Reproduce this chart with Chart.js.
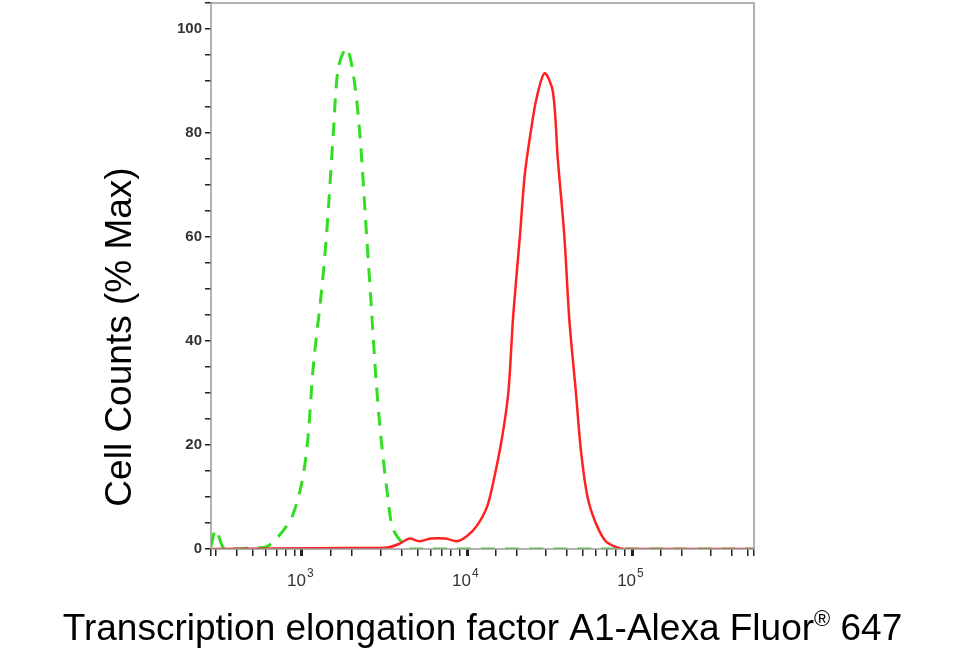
<!DOCTYPE html>
<html><head><meta charset="utf-8">
<script src="https://cdn.jsdelivr.net/npm/chart.js@4"></script>
<style>html,body{margin:0;background:#fff;overflow:hidden}#wrap{width:958px;height:665px;position:relative;top:-9px}</style>
</head><body><div id="wrap"><canvas id="chart"></canvas></div>
<script>
// green (isotype control), dashed
var greenX = [281, 300, 330, 347, 490, 617, 759, 871, 1000, 1084, 1175, 1318, 1413, 1549, 1660, 1862, 2042, 2239, 2455, 2630, 2818, 3020, 3311, 3548, 4074, 4571, 100000, 548000];
var greenY = [0.5, 3.7, 0.5, 0, 0.2, 0.5, 3.3, 6.2, 12.9, 21, 35.7, 50, 61, 80, 92.6, 96.3, 91.5, 80, 61, 46.7, 32, 21, 10, 4, 1.1, 0, 0, 0];
// red (antibody)
var redX = [281, 1900, 3311, 3890, 4467, 5129, 6026, 7413, 8710, 10000, 11482, 13183, 14454, 16218, 17783, 19055, 20893, 22387, 24547, 26303, 29512, 33113, 35481, 38905, 41687, 45709, 48978, 53703, 60256, 69183, 81283, 89125, 548000];
var redY = [0, 0.2, 0.3, 1, 2, 1.5, 2, 2, 1.5, 2.5, 4.5, 8, 13, 21, 30, 45, 60, 72, 81, 86.5, 91.5, 88, 75, 60, 44, 30, 19, 10, 5, 1.5, 0.3, 0, 0];
var yLabels = [0, 20, 40, 60, 80, 100];
var decades = [1000, 10000, 100000];
var decadeExp = ['3', '4', '5'];

function pts(xs, ys) { return xs.map(function (x, i) { return {x: x, y: ys[i]}; }); }

var extras = {
    id: 'extras',
    afterDraw: function (c) {
        var a = c.chartArea, g = c.ctx, xs = c.scales.x;
        g.save();
        g.strokeStyle = '#999'; g.lineWidth = 1.5;
        g.strokeRect(a.left, a.top, a.right - a.left, a.bottom - a.top);
        // decade labels 10^n
        g.fillStyle = '#333'; g.textBaseline = 'alphabetic';
        decades.forEach(function (d, i) {
            var px = xs.getPixelForValue(d);
            g.font = '17px Arial'; g.textAlign = 'right';
            g.fillText('10', px + 4, a.bottom + 37);
            g.font = '12px Arial'; g.textAlign = 'left';
            g.fillText(decadeExp[i], px + 5, a.bottom + 28);
        });
        // axis titles
        g.fillStyle = '#000';
        var f1 = '37px Arial', f2 = '22px Arial';
        var t1 = 'Transcription elongation factor A1-Alexa Fluor', t2 = '®', t3 = ' 647';
        g.font = f1; var w1 = g.measureText(t1).width, w3 = g.measureText(t3).width;
        g.font = f2; var w2 = g.measureText(t2).width;
        var x0 = (a.left + a.right) / 2 - (w1 + w2 + w3) / 2, y0 = 649;
        g.textAlign = 'left';
        g.font = f1; g.fillText(t1, x0, y0);
        g.font = f2; g.fillText(t2, x0 + w1, y0 - 14);
        g.font = f1; g.fillText(t3, x0 + w1 + w2, y0);
        g.translate(131, 346); g.rotate(-Math.PI / 2);
        g.textAlign = 'center'; g.font = f1;
        g.fillText('Cell Counts (% Max)', 0, 0);
        g.restore();
    }
};

var ctx = document.getElementById('chart').getContext('2d');
new Chart(ctx, {
    type: 'line',
    data: {
        datasets: [
            {data: pts(redX, redY), borderColor: '#ff2020', borderWidth: 2.5, pointRadius: 0, tension: 0.3, fill: false},
            {data: pts(greenX, greenY), borderColor: '#33dd22', borderWidth: 3, borderDash: [14, 10], pointRadius: 0, tension: 0.3, fill: false}
        ]
    },
    options: {
        responsive: true, maintainAspectRatio: false, animation: false,
        layout: {padding: {top: 0, right: 204, left: 0, bottom: 0}},
        plugins: {legend: {display: false}, tooltip: {enabled: false}},
        scales: {
            x: {
                type: 'logarithmic', min: 281, max: 548000,
                afterFit: function (s) { s.height = 107; },
                grid: {drawOnChartArea: false, color: '#222', tickLength: 7,
                    lineWidth: function (c) { return decades.indexOf(c.tick && c.tick.value) >= 0 ? 3 : 1.5; }},
                border: {display: false},
                ticks: {autoSkip: false, maxRotation: 0, callback: function () { return ''; }}
            },
            y: {
                min: 0, max: 105,
                afterFit: function (s) { s.width = 211; },
                grid: {drawOnChartArea: false, color: '#222', tickLength: 6, lineWidth: 1.5},
                border: {display: false},
                ticks: {stepSize: 5, color: '#333', font: {family: 'Arial', size: 15, weight: 'bold'},
                    callback: function (v) { return yLabels.indexOf(v) >= 0 ? v : ''; }}
            }
        }
    },
    plugins: [extras]
});
</script></body></html>
